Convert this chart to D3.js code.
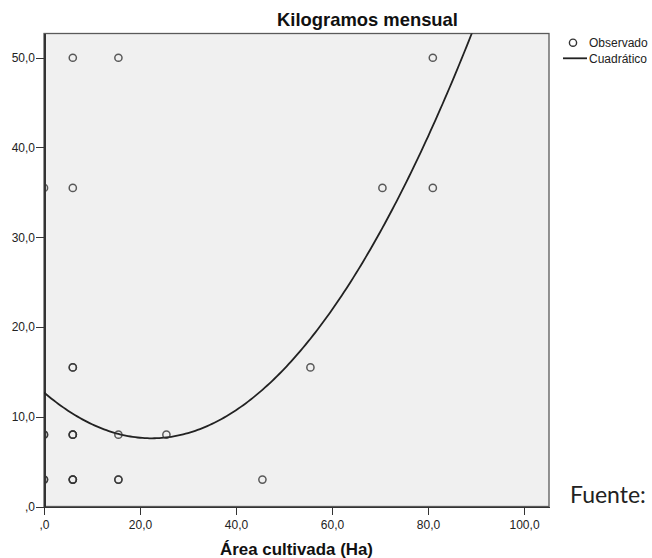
<html lang="es">
<head>
<meta charset="utf-8">
<title>Kilogramos mensual</title>
<script src="https://cdnjs.cloudflare.com/ajax/libs/d3/7.8.5/d3.min.js"></script>
<style>
  body { margin: 0; background: white; }
  svg { display: block; font-family: "Liberation Sans", Arial, sans-serif; }
  .axis path, .axis line { stroke: #333; shape-rendering: crispEdges; }
  .axis text { font-size: 12px; fill: #222; }
</style>
</head>
<body>
<script>
// observed points: area (Ha) and kilos, repeats are overlapping cases
var areaHa = [0, 0, 0, 0, 0,
              6, 6, 6, 6, 6, 6, 6, 6, 6, 6,
              15.5, 15.5, 15.5, 15.5,
              25.5, 45.5, 55.5, 70.5, 81, 81];
var kilos  = [35.5, 8, 8, 3, 3,
              50, 35.5, 15.5, 15.5, 8, 8, 8, 3, 3, 3,
              50, 8, 3, 3,
              8, 3, 15.5, 35.5, 50, 35.5];
// quadratic fit: c0 + c1*x + c2*x^2
var quadCoef = [12.7, -0.4549, 0.010143];
var xTicks = [0, 20, 40, 60, 80, 100];
var yTicks = [0, 10, 20, 30, 40, 50];

var W = 652, H = 558;
// plot box (window.top is read-only, so no "top" here)
var pL = 44, pR = 549, pT = 33.5, pB = 506.5;

var svg = d3.select("body").append("svg")
    .attr("width", W).attr("height", H);

var x = d3.scaleLinear().domain([0, 105.2]).range([pL, pR]);
var y = d3.scaleLinear().domain([0, 52.7]).range([pB, pT]);

function fmt(d) {
  return d === 0 ? ",0" : d.toFixed(1).replace(".", ",");
}

// plot background and frame
svg.append("rect")
   .attr("x", pL).attr("y", pT)
   .attr("width", pR - pL).attr("height", pB - pT)
   .attr("fill", "#f0f0f0")
   .attr("stroke", "#5a5a5a").attr("stroke-width", 1.3);

svg.append("clipPath").attr("id", "clip")
   .append("rect")
   .attr("x", pL).attr("y", pT)
   .attr("width", pR - pL).attr("height", pB - pT);

// axes
svg.append("g").attr("class", "axis")
   .attr("transform", "translate(0," + pB + ")")
   .call(d3.axisBottom(x).tickValues(xTicks).tickFormat(fmt).tickSize(8).tickSizeOuter(0))
   .call(function(g) { g.selectAll("text").attr("dy", "0.95em"); });

svg.append("g").attr("class", "axis")
   .attr("transform", "translate(" + pL + ",0)")
   .call(d3.axisLeft(y).tickValues(yTicks).tickFormat(fmt).tickSize(8).tickSizeOuter(0))
   .call(function(g) {
     g.select(".domain").attr("stroke-width", 2);
     g.selectAll("text").attr("x", -9);
   });

// fitted curve
var curveX = d3.range(0, 105.2, 0.5);
var line = d3.line()
    .x(function(d) { return x(d); })
    .y(function(d) { return y(quadCoef[0] + quadCoef[1] * d + quadCoef[2] * d * d); });

svg.append("path")
   .datum(curveX)
   .attr("clip-path", "url(#clip)")
   .attr("d", line)
   .attr("fill", "none")
   .attr("stroke", "#222")
   .attr("stroke-width", 1.8);

// observed points
svg.append("g")
   .attr("clip-path", "url(#clip)")
   .selectAll("circle")
   .data(areaHa).enter()
   .append("circle")
   .attr("cx", function(d) { return x(d); })
   .attr("cy", function(d, i) { return y(kilos[i]); })
   .attr("r", 3.6)
   .attr("fill", "none")
   .attr("stroke", "#333")
   .attr("stroke-opacity", 0.8)
   .attr("stroke-width", 1.5);

// title
svg.append("text")
   .attr("x", 367.5).attr("y", 26)
   .attr("text-anchor", "middle")
   .attr("font-size", "18.4px").attr("font-weight", "bold")
   .attr("fill", "#111")
   .text("Kilogramos mensual");

// x axis title
svg.append("text")
   .attr("x", (pL + pR) / 2).attr("y", 555)
   .attr("text-anchor", "middle")
   .attr("font-size", "16.9px").attr("font-weight", "bold")
   .attr("fill", "#111")
   .text("Área cultivada (Ha)");

// legend
var legend = svg.append("g");
legend.append("circle")
   .attr("cx", 573).attr("cy", 42.7).attr("r", 3.6)
   .attr("fill", "none").attr("stroke", "#333").attr("stroke-width", 1.4);
legend.append("text")
   .attr("x", 589).attr("y", 47)
   .attr("font-size", "12px").attr("fill", "#222")
   .text("Observado");
legend.append("line")
   .attr("x1", 563).attr("x2", 587)
   .attr("y1", 58.3).attr("y2", 58.3)
   .attr("stroke", "#222").attr("stroke-width", 1.8);
legend.append("text")
   .attr("x", 589).attr("y", 62.5)
   .attr("font-size", "12px").attr("fill", "#222")
   .text("Cuadrático");

// source note
svg.append("text")
   .attr("x", 570).attr("y", 503)
   .attr("font-family", "Lato, sans-serif")
   .attr("font-size", "23px").attr("fill", "#222")
   .text("Fuente:");
</script>
</body>
</html>
